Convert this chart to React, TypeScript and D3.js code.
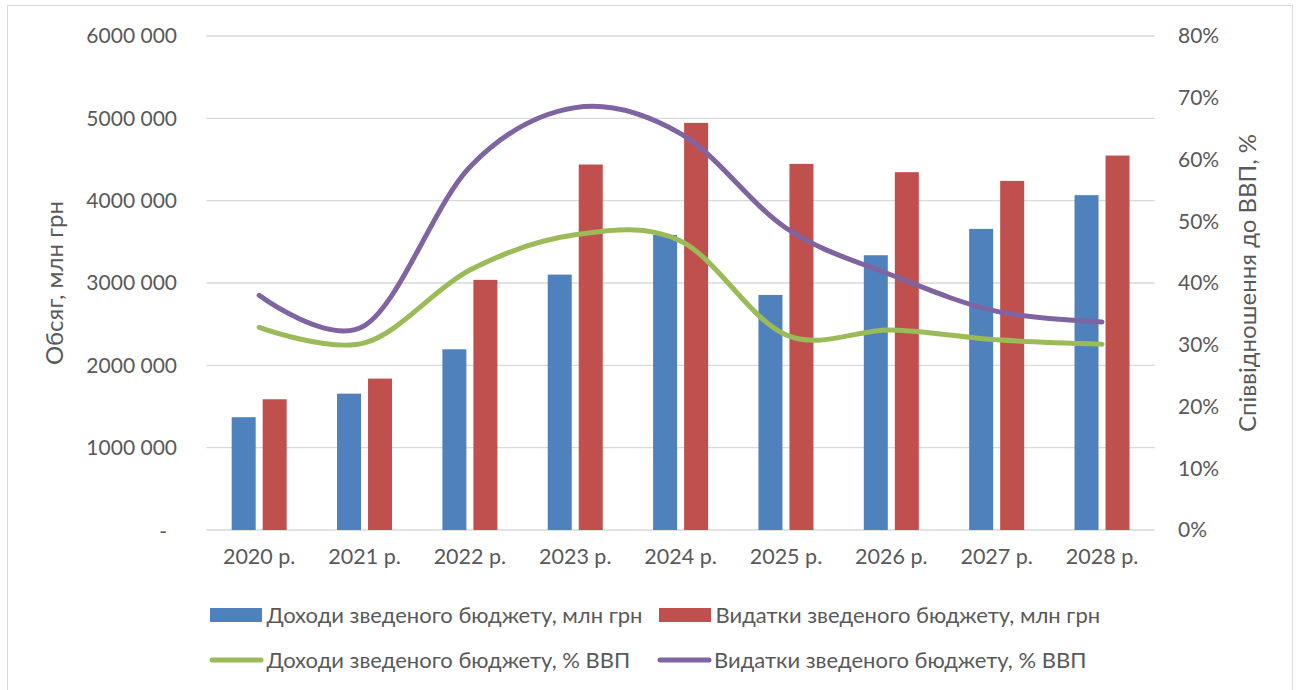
import React, { useEffect } from 'react';
import * as d3 from 'd3';

const years = ['2020 р.', '2021 р.', '2022 р.', '2023 р.', '2024 р.', '2025 р.', '2026 р.', '2027 р.', '2028 р.'];
const revenue = [1370000, 1656000, 2195000, 3102000, 3584000, 2855000, 3337000, 3657000, 4067000];
const spending = [1588000, 1839000, 3038000, 4439000, 4945000, 4447000, 4346000, 4240000, 4548000];
const revenuePct = [32.8, 30.3, 42.1, 47.8, 46.8, 31.6, 32.4, 30.8, 30.1];
const spendingPct = [38.0, 33.1, 58.8, 68.4, 64.2, 48.9, 41.3, 35.4, 33.7];
const leftTicks = [0, 1000000, 2000000, 3000000, 4000000, 5000000, 6000000];
const rightTicks = [0, 10, 20, 30, 40, 50, 60, 70, 80];

const seriesNames = [
  'Доходи зведеного бюджету, млн грн',
  'Видатки зведеного бюджету, млн грн',
  'Доходи зведеного бюджету, % ВВП',
  'Видатки зведеного бюджету, % ВВП',
];

const BLUE = '#4F81BD';
const RED = '#C0504D';
const GREEN = '#9BBB59';
const PURPLE = '#8064A2';
const GRID = '#D9D9D9';
const TEXT = '#595959';
const FONT = 'Lato, "Noto Sans", sans-serif';

const fmtLeft = (v: number) => {
  if (v === 0) return '-';
  const s = String(v);
  return s.slice(0, s.length - 3) + ' ' + s.slice(-3);
};

export default function App() {
  useEffect(() => {
    document.body.style.margin = '0';
  }, []);

  const left = 206.5, right = 1154.7, top = 36, bottom = 530;

  const x = d3.scaleBand().domain(years).range([left, right]);
  const inner = d3.scaleBand().domain(['rev', 'sp']).range([0, 55]).paddingInner(0.226);
  const yL = d3.scaleLinear().domain([0, 6000000]).range([bottom, top]);
  const yR = d3.scaleLinear().domain([0, 80]).range([bottom, top]);
  const cx = (d: string) => x(d)! + x.bandwidth() / 2;
  const off = (x.bandwidth() - 55) / 2;

  const line = d3.line<number>()
    .x((_, i) => cx(years[i]))
    .y(d => yR(d))
    .curve(d3.curveCatmullRom.alpha(0));

  const legendRow1 = 615, legendRow2 = 660;
  const legendFont = 22;

  return (
    <svg width={1299} height={690} style={{ display: 'block', fontFamily: FONT }}>
      <rect x={7.5} y={5.5} width={1285} height={690} fill="#fff" stroke={GRID} strokeWidth={1} />

      {leftTicks.map(t => (
        <line key={t} x1={left} x2={right} y1={yL(t)} y2={yL(t)} stroke={GRID} strokeWidth={1.3} />
      ))}

      {years.map((yr, i) => (
        <g key={yr}>
          <rect x={x(yr)! + off + inner('rev')!} y={yL(revenue[i])} width={inner.bandwidth()}
            height={yL(0) - yL(revenue[i])} fill={BLUE} />
          <rect x={x(yr)! + off + inner('sp')!} y={yL(spending[i])} width={inner.bandwidth()}
            height={yL(0) - yL(spending[i])} fill={RED} />
        </g>
      ))}

      <path d={line(revenuePct)!} fill="none" stroke={GREEN} strokeWidth={5} strokeLinecap="round" />
      <path d={line(spendingPct)!} fill="none" stroke={PURPLE} strokeWidth={5} strokeLinecap="round" />

      {leftTicks.map(t => (
        <text key={t} x={t === 0 ? 167 : 177} y={yL(t) + (t === 0 ? 2 : 0)} dy="0.35em" textAnchor="end"
          fontSize={21} fill={TEXT}>
          {fmtLeft(t)}
        </text>
      ))}
      {rightTicks.map(t => (
        <text key={t} x={1178} y={yR(t)} dy="0.35em" textAnchor="start" fontSize={21} fill={TEXT}>
          {t + '%'}
        </text>
      ))}
      {years.map(yr => (
        <text key={yr} x={cx(yr)} y={563.5} textAnchor="middle" fontSize={21.5} fill={TEXT}>{yr}</text>
      ))}

      <text transform={`translate(63,${(top + bottom) / 2}) rotate(-90)`} textAnchor="middle"
        fontSize={24} fill={TEXT}>Обсяг, млн грн</text>
      <text transform={`translate(1256,${(top + bottom) / 2}) rotate(-90)`} textAnchor="middle"
        fontSize={24} fill={TEXT}>Співвідношення до ВВП, %</text>

      <rect x={210} y={legendRow1 - 7} width={52} height={14} fill={BLUE} />
      <text x={266.5} y={legendRow1} dy="0.35em" fontSize={legendFont} fill={TEXT}>{seriesNames[0]}</text>
      <rect x={659} y={legendRow1 - 7} width={52} height={14} fill={RED} />
      <text x={715.5} y={legendRow1} dy="0.35em" fontSize={legendFont} fill={TEXT}>{seriesNames[1]}</text>

      <line x1={212} x2={261} y1={legendRow2} y2={legendRow2} stroke={GREEN} strokeWidth={5} strokeLinecap="round" />
      <text x={266.5} y={legendRow2} dy="0.35em" fontSize={legendFont} fill={TEXT}>{seriesNames[2]}</text>
      <line x1={660} x2={709} y1={legendRow2} y2={legendRow2} stroke={PURPLE} strokeWidth={5} strokeLinecap="round" />
      <text x={714} y={legendRow2} dy="0.35em" fontSize={legendFont} fill={TEXT}>{seriesNames[3]}</text>
    </svg>
  );
}
